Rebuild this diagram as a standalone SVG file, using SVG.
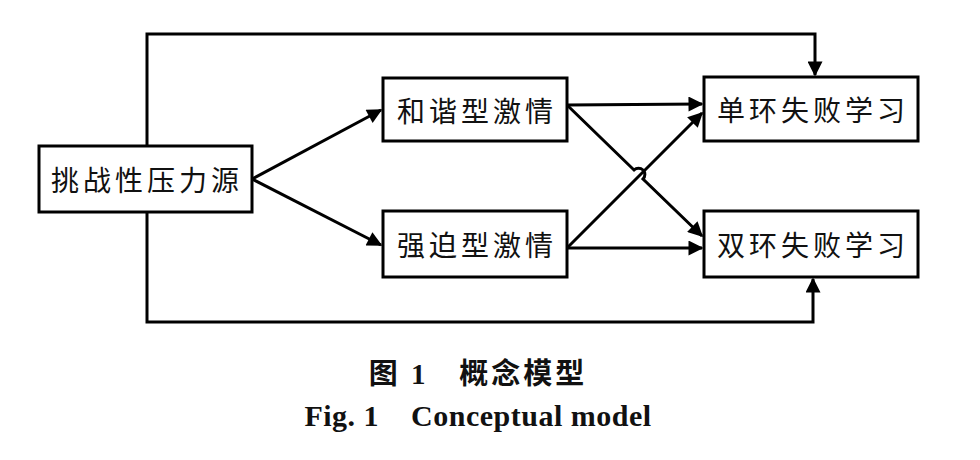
<svg xmlns="http://www.w3.org/2000/svg" width="980" height="460" viewBox="0 0 980 460">
<style>
.box{fill:#fff;stroke:#000;stroke-width:3}
.lbl{font-family:"Noto Sans CJK SC",sans-serif;font-size:28px;letter-spacing:4px;fill:#111;text-anchor:middle;dominant-baseline:central}
.ln{fill:none;stroke:#000;stroke-width:3}
.cap{font-family:"Liberation Serif","Noto Sans CJK SC",serif;font-weight:bold;fill:#111;text-anchor:middle}
</style>
<defs>
<marker id="ah" viewBox="0 0 10 10" refX="9" refY="5" markerWidth="5.5" markerHeight="5" markerUnits="strokeWidth" orient="auto">
<path d="M0,0 L10,5 L0,10 z" fill="#000"/>
</marker>
</defs>
<g id="connectors">
<path class="ln" d="M147,146 V34 H815 V75" marker-end="url(#ah)"/>
<path class="ln" d="M147,212 V322 H813 V279" marker-end="url(#ah)"/>
<path class="ln" d="M252,179 L381,110" marker-end="url(#ah)"/>
<path class="ln" d="M252,179 L381,245" marker-end="url(#ah)"/>
<path class="ln" d="M567,105 L702,104" marker-end="url(#ah)"/>
<path class="ln" d="M567,248 L702,248" marker-end="url(#ah)"/>
<path class="ln" d="M567,248 L702,113" marker-end="url(#ah)"/>
<path class="ln" d="M567,105 L634,170 A6,6 0 0 1 643,179 L702,236" marker-end="url(#ah)"/>
</g>
<g id="n1"><rect class="box" x="39" y="146" width="213" height="66"/><text class="lbl" x="147" y="179">挑战性压力源</text></g>
<g id="n2"><rect class="box" x="383" y="78" width="184" height="63"/><text class="lbl" x="477" y="110">和谐型激情</text></g>
<g id="n3"><rect class="box" x="383" y="211" width="184" height="66"/><text class="lbl" x="477" y="244">强迫型激情</text></g>
<g id="n4"><rect class="box" x="704" y="77" width="214" height="64"/><text class="lbl" x="813" y="109">单环失败学习</text></g>
<g id="n5"><rect class="box" x="704" y="211" width="214" height="66"/><text class="lbl" x="813" y="244">双环失败学习</text></g>
<text class="cap" x="478" y="384" font-size="29" letter-spacing="3" xml:space="preserve">图 1   概念模型</text>
<text class="cap" x="478" y="426" font-size="30" letter-spacing="0.5" xml:space="preserve">Fig. 1    Conceptual model</text>
</svg>
